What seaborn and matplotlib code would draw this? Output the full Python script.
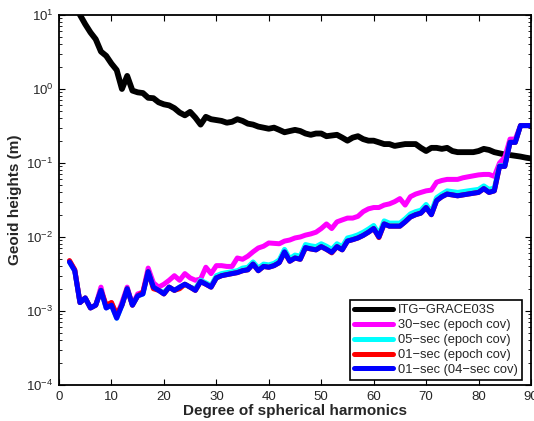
import numpy as np
import pandas as pd
import seaborn as sns
import matplotlib
matplotlib.use("Agg")
import matplotlib.pyplot as plt
from matplotlib.ticker import LogLocator, MultipleLocator

# degrees of spherical harmonics (2..90)
degrees = list(range(2, 91))

itg_grace03s = [30, 15, 10, 7.5, 5.8, 4.7, 3.2, 2.8, 2.2, 1.8,
                1.0, 1.5, 0.95, 0.9, 0.88, 0.76, 0.75, 0.66, 0.62, 0.6,
                0.55, 0.48, 0.44, 0.49, 0.41, 0.33, 0.42, 0.39, 0.38, 0.37,
                0.35, 0.36, 0.39, 0.37, 0.34, 0.33, 0.31, 0.30, 0.29, 0.30,
                0.28, 0.26, 0.27, 0.28, 0.27, 0.25, 0.24, 0.25, 0.25, 0.23,
                0.235, 0.24, 0.22, 0.20, 0.22, 0.23, 0.21, 0.20, 0.20, 0.19,
                0.18, 0.18, 0.17, 0.175, 0.18, 0.18, 0.18, 0.16, 0.145, 0.16,
                0.16, 0.155, 0.16, 0.145, 0.14, 0.14, 0.14, 0.14, 0.145, 0.155,
                0.15, 0.14, 0.135, 0.13, 0.128, 0.125, 0.122, 0.118, 0.115]

sec30_epoch = [0.0047, 0.0036, 0.0013, 0.0015, 0.0011, 0.0012, 0.0021, 0.0011, 0.0013, 0.00085,
               0.0013, 0.0021, 0.0012, 0.0017, 0.0018, 0.0038, 0.0024, 0.0021, 0.0023, 0.0026,
               0.0030, 0.0026, 0.0032, 0.0028, 0.0026, 0.0027, 0.0039, 0.0032, 0.0041, 0.0041,
               0.0040, 0.0040, 0.0052, 0.0050, 0.0055, 0.0063, 0.0071, 0.0075, 0.0083, 0.0082,
               0.0081, 0.0088, 0.0091, 0.0097, 0.0100, 0.0106, 0.0110, 0.0116, 0.013, 0.015,
               0.013, 0.016, 0.017, 0.018, 0.018, 0.019, 0.022, 0.024, 0.025, 0.025,
               0.027, 0.028, 0.030, 0.033, 0.027, 0.035, 0.038, 0.040, 0.042, 0.043,
               0.055, 0.058, 0.060, 0.060, 0.060, 0.063, 0.065, 0.067, 0.069, 0.070,
               0.070, 0.066, 0.10, 0.12, 0.21, 0.21, 0.32, 0.32, 0.32]

sec05_epoch = [0.0046, 0.0035, 0.0013, 0.0015, 0.0011, 0.0012, 0.0019, 0.0011, 0.0012, 0.0008,
               0.0012, 0.0020, 0.0012, 0.0016, 0.0017, 0.0034, 0.0021, 0.0019, 0.0018, 0.0021,
               0.0019, 0.0021, 0.0023, 0.0021, 0.0020, 0.0026, 0.0024, 0.0022, 0.0030, 0.0032,
               0.0033, 0.0034, 0.0035, 0.0038, 0.0039, 0.0046, 0.0038, 0.0043, 0.0042, 0.0044,
               0.0049, 0.0068, 0.0051, 0.0057, 0.0055, 0.0079, 0.0076, 0.0074, 0.0081, 0.0075,
               0.0068, 0.0081, 0.0074, 0.0097, 0.0101, 0.0107, 0.0116, 0.0128, 0.0143, 0.011,
               0.0165, 0.0154, 0.0154, 0.0154, 0.0176, 0.0205, 0.022, 0.023, 0.0275, 0.022,
               0.034, 0.038, 0.042, 0.041, 0.040, 0.041, 0.042, 0.043, 0.044, 0.049,
               0.044, 0.046, 0.092, 0.092, 0.19, 0.19, 0.32, 0.32, 0.32]

sec01_epoch = [0.0048, 0.0036, 0.0013, 0.0015, 0.0011, 0.0012, 0.0019, 0.0012, 0.0013, 0.0009,
               0.0012, 0.0020, 0.0012, 0.0016, 0.0018, 0.0034, 0.0020, 0.0019, 0.0017, 0.0021,
               0.0019, 0.0020, 0.0023, 0.0021, 0.0019, 0.0025, 0.0023, 0.0021, 0.0028, 0.0030,
               0.0031, 0.0032, 0.0033, 0.0035, 0.0036, 0.0043, 0.0035, 0.0040, 0.0039, 0.0041,
               0.0045, 0.0062, 0.0047, 0.0052, 0.0050, 0.0071, 0.0069, 0.0067, 0.0074, 0.0068,
               0.0061, 0.0074, 0.0067, 0.0088, 0.0092, 0.0097, 0.0105, 0.0116, 0.013, 0.0098,
               0.015, 0.014, 0.014, 0.014, 0.016, 0.0186, 0.020, 0.021, 0.025, 0.020,
               0.031, 0.035, 0.038, 0.037, 0.036, 0.037, 0.038, 0.039, 0.040, 0.045,
               0.040, 0.042, 0.09, 0.09, 0.19, 0.19, 0.32, 0.32, 0.32]

sec01_04cov = [0.0046, 0.0035, 0.0013, 0.0015, 0.0011, 0.0012, 0.0019, 0.0011, 0.0012, 0.0008,
               0.0012, 0.0020, 0.0012, 0.0016, 0.0017, 0.0034, 0.0021, 0.0019, 0.0017, 0.0021,
               0.0019, 0.0021, 0.0023, 0.0021, 0.0019, 0.0025, 0.0023, 0.0021, 0.0028, 0.0030,
               0.0031, 0.0032, 0.0033, 0.0035, 0.0036, 0.0043, 0.0035, 0.0040, 0.0039, 0.0041,
               0.0045, 0.0063, 0.0047, 0.0052, 0.0050, 0.0072, 0.0069, 0.0067, 0.0074, 0.0068,
               0.0062, 0.0074, 0.0067, 0.0088, 0.0092, 0.0097, 0.0105, 0.0116, 0.013, 0.0100,
               0.015, 0.014, 0.014, 0.014, 0.016, 0.0186, 0.020, 0.021, 0.025, 0.020,
               0.031, 0.035, 0.038, 0.037, 0.036, 0.037, 0.038, 0.039, 0.040, 0.045,
               0.040, 0.042, 0.09, 0.09, 0.19, 0.19, 0.32, 0.32, 0.32]

labels = ["ITG\u2212GRACE03S", "30\u2212sec (epoch cov)", "05\u2212sec (epoch cov)",
          "01\u2212sec (epoch cov)", "01\u2212sec (04\u2212sec cov)"]
colors = ["black", "#ff00ff", "#00ffff", "#ff0000", "#0000ff"]
series = [itg_grace03s, sec30_epoch, sec05_epoch, sec01_epoch, sec01_04cov]

df = pd.concat([pd.DataFrame({"degree": degrees, "height": s, "model": lab})
                for lab, s in zip(labels, series)], ignore_index=True)

sns.set_style("ticks")
plt.rcParams["font.family"] = ["Liberation Sans", "DejaVu Sans"]
plt.rcParams["mathtext.fontset"] = "custom"
plt.rcParams["mathtext.rm"] = "Liberation Sans"
plt.rcParams["xtick.direction"] = "in"
plt.rcParams["ytick.direction"] = "in"

fig = plt.figure(figsize=(5.34, 4.21), dpi=100)
ax = fig.add_axes([0.1105, 0.0855, 0.8839, 0.879])

sns.lineplot(data=df, x="degree", y="height", hue="model", hue_order=labels,
             palette=dict(zip(labels, colors)), linewidth=3.6, ax=ax)
# black reference line a bit thicker
ax.lines[0].set_linewidth(4.2)

ax.set_yscale("log")
ax.set_xlim(0, 90)
ax.set_ylim(1e-4, 1e1)
ax.xaxis.set_major_locator(MultipleLocator(10))
ax.yaxis.set_major_locator(LogLocator(base=10, numticks=10))
ax.yaxis.set_minor_locator(LogLocator(base=10, subs=np.arange(2, 10), numticks=10))
ax.tick_params(which="both", top=True, right=True, labelsize=9.5, color="black")
ax.tick_params(which="major", length=4, width=0.8, pad=4)
ax.tick_params(which="minor", length=2, width=0.6)
for sp in ax.spines.values():
    sp.set_linewidth(1.3)
    sp.set_color("black")

ax.set_xlabel("Degree of spherical harmonics", fontsize=11, fontweight="bold", labelpad=1)
ax.set_ylabel("Geoid heights (m)", fontsize=11, fontweight="bold", labelpad=3)

leg = ax.legend(loc="lower right", bbox_to_anchor=(0.981, 0.014), fontsize=9.3,
                frameon=True, fancybox=False, edgecolor="black", framealpha=1,
                handlelength=3.0, borderaxespad=0, labelspacing=0.22, borderpad=0.3,
                handletextpad=0.4)
leg.get_frame().set_linewidth(1.2)

fig.savefig("out.png", dpi=100)
